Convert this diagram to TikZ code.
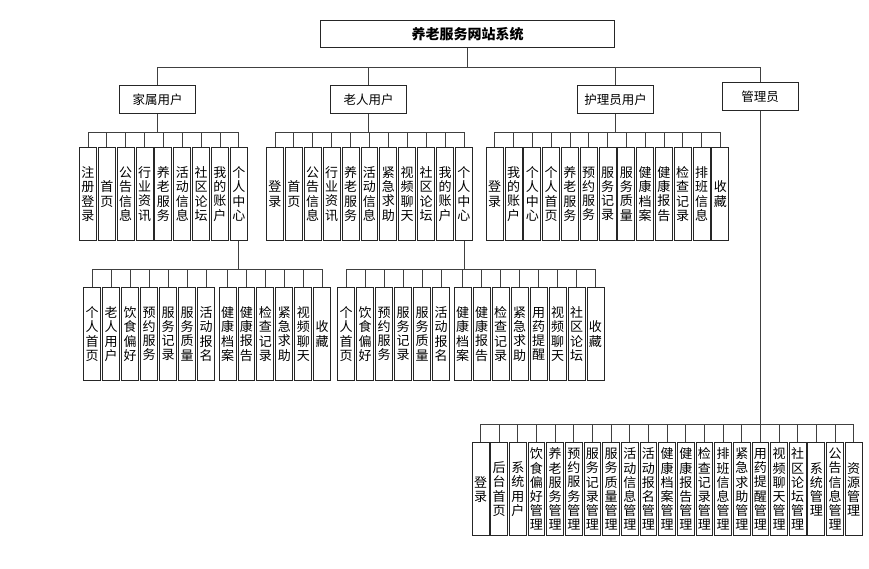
\documentclass[tikz,border=0pt]{standalone}
\usepackage{fontspec}
\newfontfamily\cjk{Noto Sans CJK SC}
\makeatletter
\newcommand\mysplitv[1]{\def\vs@out{}\def\vs@sep{}\@tfor\vs@c:=#1\do{\edef\vs@out{\unexpanded\expandafter{\vs@out}\unexpanded\expandafter{\vs@sep}\unexpanded\expandafter{\vs@c}}\def\vs@sep{\\}}\vs@out}
\newcommand\vlab[1]{\expandafter\mysplitv\expandafter{#1}}
\makeatother
\begin{document}
\begin{tikzpicture}[x=1pt,y=-1pt,
  topbox/.style={draw=black!85, line width=0.9pt, fill=white, inner sep=0pt, minimum width=76pt, minimum height=28pt, font=\cjk\fontsize{12.5}{15}\selectfont},
  leaf/.style={draw=black!85, line width=0.9pt, fill=white, inner sep=0pt, minimum width=16.9pt, minimum height=93pt, align=center, font=\cjk\fontsize{13}{14.2}\selectfont},
  conn/.style={draw=black!75, line width=0.8pt}]
\fill[white] (0,0) rectangle (869,569);
\useasboundingbox (0,0) rectangle (869,569);

% root and level 1
\node[topbox, minimum width=294pt, minimum height=27pt, font=\cjk\bfseries\fontsize{14}{16}\selectfont] (root) at (467.5,34) {养老服务网站系统};
\node[topbox] (u1) at (157.5,99.5) {家属用户};
\node[topbox] (u2) at (368.5,99.5) {老人用户};
\node[topbox] (u3) at (615.5,99.5) {护理员用户};
\node[topbox] (u4) at (760,96.5) {管理员};

% family leaves
\foreach \lab [count=\i] in {注册登录,首页,公告信息,行业资讯,养老服务,活动信息,社区论坛,我的账户,个人中心}
  \node[leaf] (f\i) at ({87.9+(\i-1)*18.87},194) {\vlab\lab};
% elderly leaves
\foreach \lab [count=\i] in {登录,首页,公告信息,行业资讯,养老服务,活动信息,紧急求助,视频聊天,社区论坛,我的账户,个人中心}
  \node[leaf] (e\i) at ({274.9+(\i-1)*18.9},194) {\vlab\lab};
% nurse leaves
\foreach \lab [count=\i] in {登录,我的账户,个人中心,个人首页,养老服务,预约服务,服务记录,服务质量,健康档案,健康报告,检查记录,排班信息,收藏}
  \node[leaf] (n\i) at ({494.7+(\i-1)*18.8},194) {\vlab\lab};

% family personal center
\foreach \lab [count=\i] in {个人首页,老人用户,饮食偏好,预约服务,服务记录,服务质量,活动报名}
  \node[leaf] (g\i) at ({92.2+(\i-1)*18.97},334) {\vlab\lab};
\foreach \lab [count=\i from 8] in {健康档案,健康报告,检查记录,紧急求助,视频聊天,收藏}
  \node[leaf] (g\i) at ({227.5+(\i-8)*18.94},334) {\vlab\lab};
% elderly personal center
\foreach \lab [count=\i] in {个人首页,饮食偏好,预约服务,服务记录,服务质量,活动报名}
  \node[leaf] (h\i) at ({346.2+(\i-1)*19.0},334) {\vlab\lab};
\foreach \lab [count=\i from 7] in {健康档案,健康报告,检查记录,紧急求助,用药提醒,视频聊天,社区论坛,收藏}
  \node[leaf] (h\i) at ({462.7+(\i-7)*18.97},334) {\vlab\lab};
% admin
\foreach \lab [count=\i] in {登录,后台首页,系统用户,饮食偏好管理,养老服务管理,预约服务管理,服务记录管理,服务质量管理,活动信息管理,活动报名管理,健康档案管理,健康报告管理,检查记录管理,排班信息管理,紧急求助管理,用药提醒管理,视频聊天管理,社区论坛管理,系统管理,公告信息管理,资源管理}
  \node[leaf, minimum height=92.8pt] (a\i) at ({480.5+(\i-1)*18.66},489.2) {\vlab\lab};

% bus levels
\coordinate (b0) at (0,67);
\coordinate (b1) at (0,132);
\coordinate (b2) at (0,269);
\coordinate (b3) at (0,424);

% connectors
\foreach \c in {u1,u2,u3,u4}
  \draw[conn] (root.south) |- (\c.north |- b0) -- (\c.north);
\foreach \i in {1,...,9}
  \draw[conn] (u1.south) |- (f\i.north |- b1) -- (f\i.north);
\foreach \i in {1,...,11}
  \draw[conn] (u2.south) |- (e\i.north |- b1) -- (e\i.north);
\foreach \i in {1,...,13}
  \draw[conn] (u3.south) |- (n\i.north |- b1) -- (n\i.north);
\foreach \i in {1,...,13}
  \draw[conn] (f9.south) |- (g\i.north |- b2) -- (g\i.north);
\foreach \i in {1,...,14}
  \draw[conn] (e11.south) |- (h\i.north |- b2) -- (h\i.north);
\foreach \i in {1,...,21}
  \draw[conn] (u4.south) |- (a\i.north |- b3) -- (a\i.north);
\end{tikzpicture}
\end{document}
